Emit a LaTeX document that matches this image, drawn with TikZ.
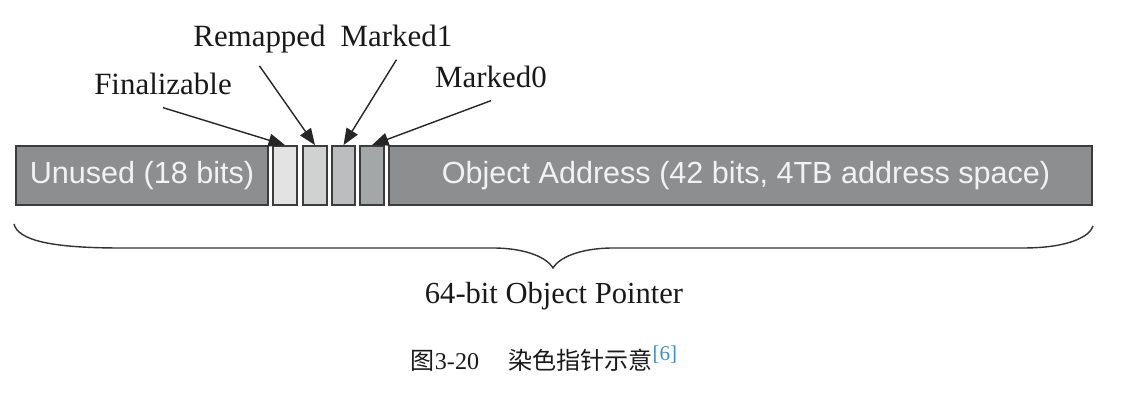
\documentclass[tikz,border=0pt]{standalone}
\usepackage{fontspec}
\setmainfont{Liberation Serif}
\setsansfont{Liberation Sans}
\newfontfamily\cjk{Noto Sans CJK SC}
\usetikzlibrary{arrows.meta}
\definecolor{ptrGray}{HTML}{8C8E90}
\definecolor{ptrEdge}{HTML}{3C3C3C}
\definecolor{bitFin}{HTML}{E3E3E3}
\definecolor{bitRemap}{HTML}{D0D1D1}
\definecolor{bitMarkA}{HTML}{BBBDBE}
\definecolor{bitMarkB}{HTML}{A4A7A8}
\definecolor{citeBlue}{HTML}{3B8ED0}

\begin{document}
\begin{tikzpicture}[
    campo/.style={draw=ptrEdge, fill=ptrGray, line width=1pt, inner sep=0pt,
                  minimum height=1.18cm, text=white!95!black,
                  font=\sffamily\fontsize{17.4}{20}\selectfont},
    bit/.style={draw=ptrEdge, line width=1pt, inner sep=0pt,
                minimum height=1.18cm, minimum width=0.47cm},
    etq/.style={anchor=base, inner sep=0.24cm, text=black!90,
                font=\fontsize{17.6}{20}\selectfont},
    fl/.style={-{Triangle[length=0.33cm, width=0.26cm]}, line width=0.8pt, color=black!85}]
    \useasboundingbox (0,0) rectangle (22.74,8.24);
    % pointer fields
    \node[campo, minimum width=5.04cm]  (unused) at (2.84,4.73)  {Unused (18 bits)};
    \node[bit, fill=bitFin]   (bfin) at (5.70,4.73) {};
    \node[bit, fill=bitRemap] (brem) at (6.30,4.73) {};
    \node[bit, fill=bitMarkA] (bmk1) at (6.87,4.73) {};
    \node[bit, fill=bitMarkB] (bmk0) at (7.44,4.73) {};
    \node[campo, minimum width=14.06cm] (addr) at (14.81,4.73) {\hspace{0.22cm}Object Address (42 bits, 4TB address space)};
    % flag names
    \node[etq] (tfin) at (3.26,6.34) {Finalizable};
    \node[etq] (trem) at (5.19,7.30) {Remapped};
    \node[etq] (tmk1) at (7.93,7.30) {Marked1};
    \node[etq] (tmk0) at (9.82,6.48) {Marked0};
    \draw[fl] (tfin.south) -- (bfin.north);
    \draw[fl] (trem.south) -- (brem.north);
    \draw[fl] (tmk1.south) -- (bmk1.north);
    \draw[fl] (tmk0.south) -- (bmk0.north);
    % brace under the whole pointer
    \draw[line width=0.8pt, color=black!80]
      (0.28,3.76) .. controls (0.36,3.44) and (1.0,3.28) .. (2.4,3.28)
      -- (9.86,3.28) .. controls (10.4,3.28) and (10.9,3.14) .. (11.06,2.88)
      .. controls (11.22,3.14) and (11.72,3.28) .. (12.26,3.28)
      -- (20.46,3.28) .. controls (21.4,3.28) and (21.8,3.52) .. (21.86,3.72);
    \node[anchor=base, inner sep=0pt, font=\fontsize{17.4}{20}\selectfont, text=black!90]
      (total) at (11.08,2.16) {64-bit Object Pointer};
    \node[anchor=base, inner sep=0pt, font=\fontsize{13.7}{16}\selectfont, text=black!90]
      (cap) at (10.88,0.84) {{\cjk 图}3-20\hspace{0.58cm}{\cjk 染色指针示意}\raisebox{0.4em}{\fontsize{12}{14}\selectfont\color{citeBlue}[6]}};
\end{tikzpicture}
\end{document}
